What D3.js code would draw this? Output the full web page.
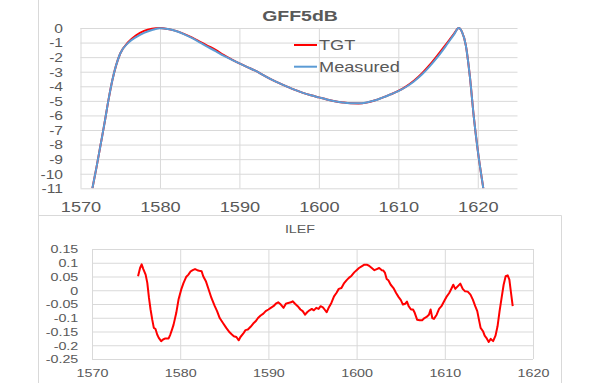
<!DOCTYPE html>
<html><head><meta charset="utf-8">
<script src="https://cdn.jsdelivr.net/npm/d3@7"></script>
<style>
body{margin:0;background:#fff}
svg{display:block}
text{font-family:"Liberation Sans",Arial,sans-serif;fill:#595959}
</style>
</head><body>
<svg id="c" width="600" height="383"></svg>
<script>
// ---------- data ----------
const gffTitle = "GFF5dB";
const ilefTitle = "ILEF";
const seriesNames = ["TGT", "Measured"];
const seriesColors = ["#ff0000", "#5b9bd5"];

const gffWavelength = [1571.5,1572,1572.5,1573,1573.5,1574,1575,1576,1577,1578,1579,1580,1581,1582,1583,1584,1585,1586,1587,1588,1589,1590,1591,1592,1593,1594,1595,1596,1597,1598,1599,1600,1601,1602,1603,1604,1605,1606,1607,1608,1609,1610,1611,1612,1613,1614,1615,1616,1617,1617.6,1618,1618.5,1619,1619.5,1620,1620.7];
const gffTarget = [-11,-9.6,-8.1,-6.6,-5.0,-3.6,-1.75,-0.98,-0.5,-0.2,-0.05,0,-0.07,-0.2,-0.4,-0.65,-0.93,-1.22,-1.5,-1.85,-2.15,-2.43,-2.68,-2.93,-3.23,-3.52,-3.78,-4.02,-4.25,-4.45,-4.62,-4.76,-4.9,-5.02,-5.11,-5.17,-5.18,-5.12,-4.98,-4.78,-4.56,-4.32,-4.0,-3.6,-3.1,-2.5,-1.82,-1.12,-0.4,0,-0.25,-1.2,-3.3,-6.1,-8.4,-11];
const gffMeasured = [-11,-9.6,-8.1,-6.6,-5.0,-3.6,-1.75,-1.02,-0.62,-0.33,-0.14,-0.01,-0.07,-0.21,-0.42,-0.68,-0.98,-1.3,-1.58,-1.9,-2.17,-2.43,-2.68,-2.93,-3.23,-3.52,-3.78,-4.02,-4.25,-4.45,-4.62,-4.76,-4.9,-5.02,-5.11,-5.16,-5.17,-5.11,-4.98,-4.78,-4.56,-4.33,-4.03,-3.65,-3.18,-2.6,-1.95,-1.22,-0.45,0,-0.25,-1.2,-3.3,-6.1,-8.4,-11];

const ilefWavelength = [1575.22,1575.45,1575.63,1575.82,1576.08,1576.27,1576.46,1576.64,1576.83,1577.01,1577.20,1577.39,1577.57,1577.84,1578.06,1578.32,1578.69,1578.88,1579.07,1579.25,1579.55,1579.81,1580.11,1580.37,1580.67,1580.93,1581.19,1581.42,1581.68,1581.94,1582.16,1582.43,1582.61,1582.91,1583.17,1583.54,1583.92,1584.18,1584.48,1584.85,1585.22,1585.60,1585.86,1586.08,
1586.37,1586.64,1586.83,1587.14,1587.40,1587.67,1587.98,1588.28,1588.55,1588.82,1589.12,1589.43,1589.69,1590.00,1590.27,1590.57,1590.84,1591.11,1591.41,1591.72,1591.98,1592.25,1592.56,1592.75,1593.02,1593.32,1593.63,1593.89,1594.16,1594.39,1594.66,1594.92,1595.15,1595.42,1595.69,1595.92,1596.18,1596.37,1596.60,1596.83,1597.14,1597.44,1597.71,1597.98,1598.28,1598.59,1598.85,1599.12,1599.43,1599.73,1600.00,1600.27,1600.57,1600.88,1601.15,1601.41,1601.72,1602.02,1602.29,1602.56,1602.86,
1603.03,1603.22,1603.41,1603.60,1603.87,1604.18,1604.48,1604.75,1605.02,1605.25,1605.52,1605.71,1605.90,1606.17,1606.40,1606.59,1606.86,1607.16,1607.43,1607.70,1607.93,1608.20,1608.39,1608.58,1608.77,1609.08,1609.35,1609.62,1609.92,1610.23,1610.50,1610.69,1610.96,1611.19,1611.46,1611.76,1612.03,1612.30,1612.60,1612.91,1613.18,1613.45,1613.68,1613.87,1614.06,1614.33,1614.52,1614.71,1614.98,1615.21,1615.48,1615.75,1615.98,1616.21,1616.44,1616.67,1616.90,1617.13,1617.32,1617.51,1617.70];
const ilefValue = [0.051,0.081,0.094,0.077,0.057,0.027,-0.028,-0.070,-0.107,-0.137,-0.141,-0.161,-0.173,-0.185,-0.179,-0.175,-0.175,-0.161,-0.143,-0.125,-0.083,-0.034,0.002,0.026,0.048,0.057,0.069,0.073,0.077,0.073,0.071,0.069,0.051,0.033,0.008,-0.028,-0.058,-0.076,-0.101,-0.119,-0.137,-0.153,-0.161,-0.167,
-0.170,-0.182,-0.170,-0.158,-0.145,-0.143,-0.133,-0.121,-0.113,-0.101,-0.092,-0.085,-0.076,-0.070,-0.064,-0.058,-0.049,-0.044,-0.052,-0.064,-0.049,-0.046,-0.044,-0.040,-0.049,-0.058,-0.070,-0.076,-0.089,-0.080,-0.073,-0.068,-0.073,-0.064,-0.068,-0.058,-0.062,-0.070,-0.080,-0.064,-0.046,-0.022,-0.010,0.005,0.008,0.026,0.036,0.045,0.053,0.065,0.073,0.081,0.087,0.093,0.093,0.089,0.081,0.073,0.077,0.081,0.073,
0.072,0.063,0.041,0.036,0.020,0.008,-0.010,-0.024,-0.036,-0.052,-0.049,-0.041,-0.058,-0.070,-0.070,-0.082,-0.107,-0.109,-0.109,-0.101,-0.097,-0.089,-0.070,-0.101,-0.104,-0.089,-0.068,-0.058,-0.040,-0.022,-0.010,0.002,0.020,0.005,0.014,0.024,0.005,-0.004,-0.005,-0.016,-0.034,-0.058,-0.076,-0.107,-0.137,-0.149,-0.165,-0.173,-0.188,-0.177,-0.185,-0.165,-0.131,-0.076,-0.028,0.020,0.051,0.054,0.039,-0.010,-0.058];

const gffXTicks = [1570,1580,1590,1600,1610,1620];
const gffYTicks = [0,-1,-2,-3,-4,-5,-6,-7,-8,-9,-10,-11];
const ilefXTicks = [1570,1580,1590,1600,1610,1620];
const ilefYTicks = [0.15,0.1,0.05,0,-0.05,-0.1,-0.15,-0.2,-0.25];

// ---------- layout ----------
const SX = 1.3;             // horizontal stretch of the reference's text
const GRID = "#d9d9d9";
const svg = d3.select("#c");

// frames
svg.append("line").attr("x1",38.5).attr("x2",38.5).attr("y1",0).attr("y2",383).attr("stroke",GRID);
svg.append("path").attr("d","M38.5,383V215.5H561.5V383").attr("fill","none").attr("stroke",GRID);

function stretchText(sel){
  sel.each(function(){
    const t = d3.select(this);
    const x = +t.attr("x") || 0, y = +t.attr("y") || 0;
    t.attr("x", null).attr("y", null)
     .attr("transform", `translate(${x},${y}) scale(${SX},1)`);
  });
}

// ---------- top chart ----------
{
  const L=80.5, R=517.5, T=28, B=188.3;
  const x = d3.scaleLinear().domain([1570,1625]).range([L,R]);
  const y = d3.scaleLinear().domain([-11,0]).range([B,T]);
  const g = svg.append("g");

  // horizontal grid
  g.append("g").attr("transform",`translate(${L},0)`)
    .call(d3.axisLeft(y).tickValues(gffYTicks).tickSize(-(R-L)).tickFormat(""))
    .call(s=>{s.select(".domain").remove(); s.selectAll("line").attr("stroke",GRID);});
  // vertical grid
  g.append("g").attr("transform",`translate(0,${T})`)
    .call(d3.axisBottom(x).tickValues(gffXTicks).tickSize(B-T).tickFormat(""))
    .call(s=>{s.select(".domain").remove(); s.selectAll("line").attr("stroke",GRID);});

  // y labels
  g.append("g").attr("transform",`translate(${L},0)`)
    .call(d3.axisLeft(y).tickValues(gffYTicks).tickSize(0).tickFormat(d=>String(d)))
    .call(s=>{
      s.select(".domain").remove();
      s.selectAll("text").attr("x",-17.5).attr("dy","0.36em").attr("fill","#595959")
        .style("font-size","12px").style("font-family",null).attr("font-family",null).attr("font-size",null);
      s.selectAll("text").each(function(){
        d3.select(this).attr("x",null).attr("transform",`translate(-17.5,0) scale(${SX},1)`);
      });
    });
  // x labels
  g.append("g").attr("transform",`translate(0,${B})`)
    .call(d3.axisBottom(x).tickValues(gffXTicks).tickSize(0).tickFormat(d=>String(d)))
    .call(s=>{
      s.select(".domain").remove();
      s.selectAll("text").attr("dy",null).attr("y",null).attr("fill","#595959")
        .style("font-size","14px").attr("font-family",null).attr("font-size",null)
        .attr("transform",`translate(0,23.4) scale(${SX},1)`);
    });

  // clip
  svg.append("clipPath").attr("id","clipTop").append("rect")
    .attr("x",L).attr("y",T-3).attr("width",R-L).attr("height",B-T+3);

  const line = d3.line().curve(d3.curveMonotoneX)
    .x((d,i)=>x(gffWavelength[i])).y(d=>y(d));
  [gffTarget, gffMeasured].forEach((s,k)=>{
    g.append("path").datum(s).attr("d",line).attr("fill","none")
      .attr("stroke",seriesColors[k]).attr("stroke-width",2)
      .attr("clip-path","url(#clipTop)");
  });

  // title
  svg.append("text").attr("transform",`translate(300,20.7) scale(${SX},1)`)
    .attr("text-anchor","middle").style("font-size","15px").style("font-weight","bold")
    .text(gffTitle);

  // legend
  const legY = [45, 66.7];
  seriesNames.forEach((n,k)=>{
    svg.append("line").attr("x1",294).attr("x2",317).attr("y1",legY[k]).attr("y2",legY[k])
      .attr("stroke",seriesColors[k]).attr("stroke-width",2);
    svg.append("text").attr("transform",`translate(319,${legY[k]+5}) scale(${SX},1)`)
      .style("font-size","14px").text(n);
  });
}

// ---------- bottom chart ----------
{
  const L=92, R=533, T=249, B=359;
  const x = d3.scaleLinear().domain([1570,1620]).range([L,R]);
  const y = d3.scaleLinear().domain([-0.25,0.15]).range([B,T]);
  const g = svg.append("g");

  g.append("g").attr("transform",`translate(${L},0)`)
    .call(d3.axisLeft(y).tickValues(ilefYTicks).tickSize(-(R-L)).tickFormat(""))
    .call(s=>{s.select(".domain").remove(); s.selectAll("line").attr("stroke",GRID);});
  g.append("g").attr("transform",`translate(0,${T})`)
    .call(d3.axisBottom(x).tickValues(ilefXTicks).tickSize(B-T).tickFormat(""))
    .call(s=>{s.select(".domain").remove(); s.selectAll("line").attr("stroke",GRID);});

  g.append("g").attr("transform",`translate(${L},0)`)
    .call(d3.axisLeft(y).tickValues(ilefYTicks).tickSize(0).tickFormat(d=>String(d)))
    .call(s=>{
      s.select(".domain").remove();
      s.selectAll("text").attr("x",null).attr("dy","0.36em").attr("fill","#595959")
        .style("font-size","11px").attr("font-family",null).attr("font-size",null)
        .attr("transform",`translate(-13.7,0) scale(${SX},1)`);
    });
  g.append("g").attr("transform",`translate(0,${B})`)
    .call(d3.axisBottom(x).tickValues(ilefXTicks).tickSize(0).tickFormat(d=>String(d)))
    .call(s=>{
      s.select(".domain").remove();
      s.selectAll("text").attr("dy",null).attr("y",null).attr("fill","#595959")
        .style("font-size","11px").attr("font-family",null).attr("font-size",null)
        .attr("transform",`translate(0,18) scale(${SX},1)`);
    });

  const line = d3.line().x((d,i)=>x(ilefWavelength[i])).y(d=>y(d));
  g.append("path").datum(ilefValue).attr("d",line).attr("fill","none")
    .attr("stroke",seriesColors[0]).attr("stroke-width",2).attr("stroke-linejoin","round");

  svg.append("text").attr("transform",`translate(300,233) scale(${SX},1)`)
    .attr("text-anchor","middle").style("font-size","11px").text(ilefTitle);
}
</script>
</body></html>
